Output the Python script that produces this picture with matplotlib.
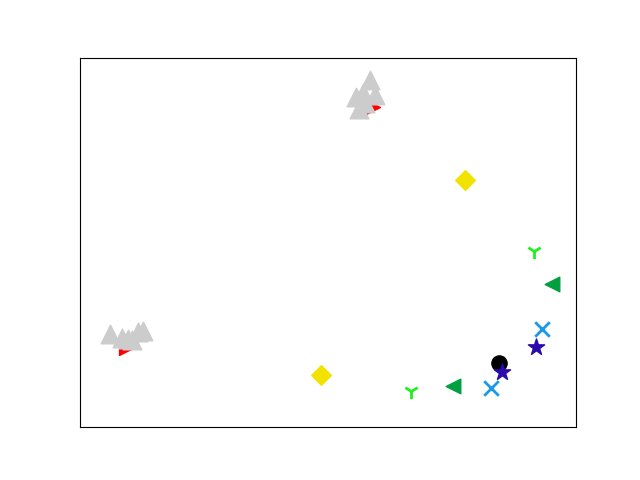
import matplotlib
matplotlib.use("Agg")
import matplotlib.pyplot as plt

# ----------------------------
# DATA (2-D embedding, arbitrary units)
# ----------------------------
gray_x = [0.60, 0.85, 0.97, 1.05, 1.17, 1.27, 5.84, 5.70, 5.56, 5.94, 5.74, 5.62]
gray_y = [2.52, 2.41, 2.38, 2.36, 2.57, 2.60, 9.40, 9.05, 8.94, 9.00, 8.78, 8.62]

red_x = [0.93, 5.78, 5.90]
red_y = [2.14, 8.83, 8.67]

yellow_x = [7.76, 4.85]
yellow_y = [6.69, 1.41]

lime_x = [9.15, 6.67]
lime_y = [4.77, 0.98]

green_x = [9.52, 7.52]
green_y = [3.88, 1.11]

blue_x = [9.31, 8.28]
blue_y = [2.66, 1.06]

navy_x = [9.19, 8.51]
navy_y = [2.17, 1.49]

black_x = [8.44]
black_y = [1.73]

# ----------------------------
# PLOT
# ----------------------------
fig, ax = plt.subplots(figsize=(6.4, 4.8), dpi=100)

ax.scatter(black_x, black_y, marker='o', s=120, color='black')
ax.scatter(red_x, red_y, marker='>', s=100, color='#ff0000')
ax.scatter(yellow_x, yellow_y, marker='D', s=100, color='#f2e200')
ax.scatter(lime_x, lime_y, marker='1', s=120, color='#1ff01f', linewidths=2)
ax.scatter(green_x, green_y, marker='<', s=110, color='#00a040')
ax.scatter(blue_x, blue_y, marker='x', s=110, color='#1a9ae6', linewidths=2)
ax.scatter(navy_x, navy_y, marker='*', s=150, color='#2a0aaa')
ax.scatter(gray_x, gray_y, marker='^', s=180, color='#cccccc')

ax.set_xlim(0, 10)
ax.set_ylim(0, 10)
ax.set_xticks([])
ax.set_yticks([])

plt.savefig("out.png")
